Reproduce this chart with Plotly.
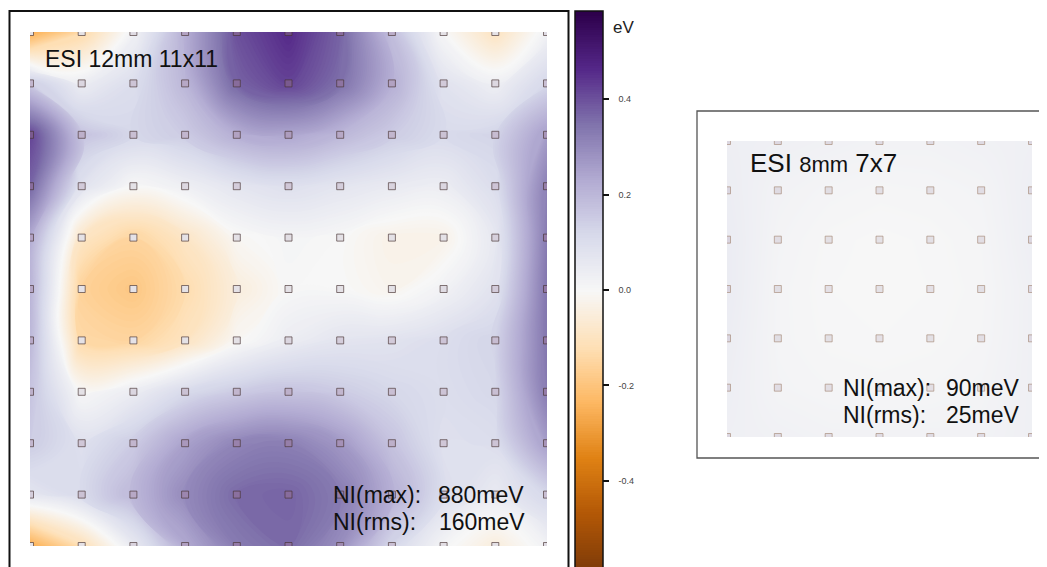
import plotly.graph_objects as go

# page body has an 8px default margin; figure sized so page == window
OFF = 8
W, H = 1047 - OFF, 567 - OFF

# ---------------- data ----------------
# 11x11 potential map (eV), row 0 = top row of pads
esi12_values = [
    [-0.26, -0.14, 0.02, 0.22, 0.40, 0.46, 0.37, 0.18, 0.00, -0.10, 0.02],
    [0.15, 0.04, 0.10, 0.20, 0.37, 0.42, 0.35, 0.22, 0.08, 0.03, 0.12],
    [0.42, 0.17, 0.12, 0.15, 0.22, 0.24, 0.20, 0.15, 0.11, 0.13, 0.26],
    [0.37, 0.08, 0.00, 0.03, 0.07, 0.09, 0.07, 0.05, 0.04, 0.10, 0.32],
    [0.23, -0.09, -0.15, -0.09, -0.01, 0.01, 0.00, -0.03, -0.03, 0.06, 0.33],
    [0.21, -0.16, -0.19, -0.13, -0.05, 0.00, 0.00, -0.02, 0.02, 0.08, 0.34],
    [0.20, -0.14, -0.15, -0.10, -0.01, 0.04, 0.07, 0.08, 0.10, 0.13, 0.34],
    [0.17, 0.00, 0.04, 0.11, 0.15, 0.17, 0.15, 0.12, 0.10, 0.12, 0.33],
    [0.15, 0.09, 0.15, 0.25, 0.31, 0.32, 0.27, 0.17, 0.09, 0.10, 0.26],
    [0.07, 0.11, 0.20, 0.30, 0.36, 0.37, 0.33, 0.22, 0.10, 0.05, 0.12],
    [-0.26, -0.12, 0.05, 0.23, 0.33, 0.36, 0.29, 0.12, 0.01, -0.05, 0.02],
]

# 7x7 potential map (eV)
esi8_values = [
    [0.035, 0.030, 0.025, 0.020, 0.020, 0.025, 0.030],
    [0.040, 0.020, 0.012, 0.008, 0.010, 0.015, 0.035],
    [0.045, 0.015, 0.004, 0.000, 0.003, 0.010, 0.035],
    [0.045, 0.012, 0.002, 0.000, 0.002, 0.008, 0.030],
    [0.040, 0.012, 0.004, 0.002, 0.004, 0.010, 0.030],
    [0.035, 0.015, 0.010, 0.008, 0.010, 0.015, 0.030],
    [0.030, 0.025, 0.020, 0.020, 0.020, 0.020, 0.030],
]

esi12_pads = list(range(11))
esi8_pads = list(range(7))

cbar_tickvals = [-0.4, -0.2, 0.0, 0.2, 0.4]
cbar_ticktext = ["-0.4", "-0.2", "0.0", "0.2", "0.4"]
z_limit = 0.585
level_step = 0.005

title_left = "ESI 12mm 11x11"
title_right = "ESI <span style='font-size:22px'>8mm</span> 7x7"
ni_left = ("NI(max):", "880meV", "NI(rms):", "160meV")
ni_right = ("NI(max):", "90meV", "NI(rms):", "25meV")

# ---------------- styling ----------------
puor = [[0.0, 'rgb(127,59,8)'], [0.1, 'rgb(179,88,6)'], [0.2, 'rgb(224,130,20)'],
        [0.3, 'rgb(253,184,99)'], [0.4, 'rgb(254,224,182)'], [0.5, 'rgb(247,247,247)'],
        [0.6, 'rgb(216,218,235)'], [0.7, 'rgb(178,171,210)'], [0.8, 'rgb(128,115,172)'],
        [0.9, 'rgb(84,39,136)'], [1.0, 'rgb(45,0,75)']]
pad_scale = [[0.0, 'rgb(232,229,232)'], [0.5, 'rgb(228,225,230)'],
             [0.7, 'rgb(175,158,192)'], [1.0, 'rgb(75,30,100)']]

FONT = "Liberation Sans, Arial, sans-serif"
NBSP = "\u00a0"


def px(x):
    return (x - OFF) / W


def py(y):
    return 1 - (y - OFF) / H


colorbar = dict(
    x=px(575), xanchor="left", xpad=0,
    y=py(11), yanchor="top", ypad=0,
    lenmode="pixels", len=558,
    thicknessmode="pixels", thickness=28,
    outlinewidth=1.5, outlinecolor="#111",
    ticks="outside", ticklen=6, tickwidth=1.5, tickcolor="#111",
    tickvals=cbar_tickvals, ticktext=[NBSP * 3 + t for t in cbar_ticktext],
    tickfont=dict(family=FONT, size=9, color="#444"),
)

fig = go.Figure()

fig.add_trace(go.Contour(z=esi12_values, x=esi12_pads, y=esi12_pads,
                         colorscale=puor, zmin=-z_limit, zmax=z_limit, zauto=False,
                         showscale=True, colorbar=colorbar,
                         xaxis="x", yaxis="y", hoverinfo="skip", autocontour=False,
                         contours=dict(start=-z_limit, end=z_limit, size=level_step,
                                       coloring="fill", showlines=False),
                         line=dict(width=0, smoothing=1.3)))
fig.add_trace(go.Heatmap(z=esi8_values, x=esi8_pads, y=esi8_pads,
                         colorscale=puor, zmin=-z_limit, zmax=z_limit, zauto=False,
                         showscale=False,
                         zsmooth="best", xaxis="x2", yaxis="y2", hoverinfo="skip"))


def pad_trace(values, pads, xa, ya, edge):
    xs, ys, cs = [], [], []
    for r, row in enumerate(values):
        for c, v in enumerate(row):
            xs.append(pads[c])
            ys.append(pads[r])
            cs.append(v)
    return go.Scatter(x=xs, y=ys, mode="markers", xaxis=xa, yaxis=ya, hoverinfo="skip",
                      showlegend=False,
                      marker=dict(symbol="square", size=7, color=cs, colorscale=pad_scale,
                                  cmin=-z_limit, cmax=z_limit, showscale=False,
                                  line=dict(color=edge, width=1)))


fig.add_trace(pad_trace(esi12_values, esi12_pads, "x", "y", "rgba(70,50,50,0.65)"))
fig.add_trace(pad_trace(esi8_values, esi8_pads, "x2", "y2", "rgba(160,130,110,0.6)"))

ax_common = dict(visible=False, showgrid=False, zeroline=False, fixedrange=True)
fig.update_layout(
    width=W, height=H,
    margin=dict(l=0, r=0, t=0, b=0, pad=0, autoexpand=False),
    paper_bgcolor="white", plot_bgcolor="white",
    showlegend=False,
    xaxis=dict(domain=[px(30), px(547)], range=[0, 10], **ax_common),
    yaxis=dict(domain=[py(546), py(32)], range=[10, 0], **ax_common),
    xaxis2=dict(domain=[px(727), px(1032)], range=[0, 6], anchor="y2", **ax_common),
    yaxis2=dict(domain=[py(437), py(141)], range=[6, 0], anchor="x2", **ax_common),
)

# frames
fig.add_shape(type="rect", xref="paper", yref="paper",
              x0=px(9.5), x1=px(568.5), y0=py(600), y1=py(11),
              line=dict(color="#111", width=2), fillcolor="rgba(0,0,0,0)", layer="above")
fig.add_shape(type="rect", xref="paper", yref="paper",
              x0=px(697), x1=px(1046), y0=py(458), y1=py(111),
              line=dict(color="#555", width=1.3), fillcolor="rgba(0,0,0,0)", layer="above")


def note(text, x, y, anchor, size):
    fig.add_annotation(text=text, xref="paper", yref="paper", x=px(x), y=py(y),
                       xanchor=anchor, yanchor="middle", showarrow=False,
                       borderpad=0, borderwidth=0,
                       font=dict(family=FONT, size=size, color="#111"))


note(title_left, 44.5, 59, "left", 23)
note(ni_left[0], 333, 495, "left", 23)
note(ni_left[1], 524, 495, "right", 23)
note(ni_left[2], 333, 522, "left", 23)
note(ni_left[3], 525, 522, "right", 23)

note(title_right, 750, 163, "left", 26)
note(ni_right[0], 843, 388, "left", 23)
note(ni_right[1], 1020, 388, "right", 23)
note(ni_right[2], 843, 414.5, "left", 23)
note(ni_right[3], 1020, 414.5, "right", 23)

fig.add_annotation(text="eV", xref="paper", yref="paper", x=px(613), y=py(27),
                   xanchor="left", yanchor="middle", showarrow=False, borderpad=0, borderwidth=0,
                   font=dict(family=FONT, size=17, color="#222"))

fig.write_html("out.html")
